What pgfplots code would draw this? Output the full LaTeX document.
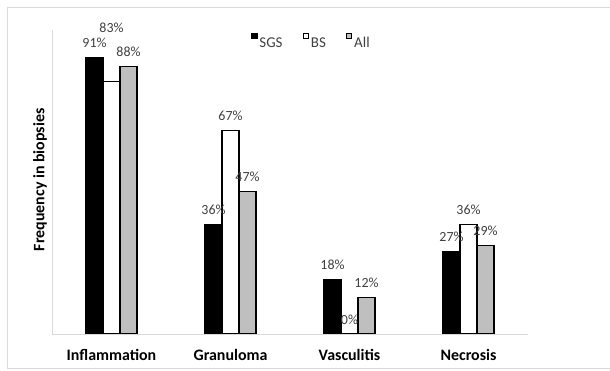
\documentclass[border=0pt]{standalone}
\usepackage{fontspec}
\setmainfont{Carlito}
\usepackage{pgfplots}
\pgfplotsset{compat=1.18}
\usepackage{pgfplotstable}
\definecolor{barg}{HTML}{BFBFBF}
\definecolor{lab}{HTML}{404040}
\definecolor{frame}{HTML}{D9D9D9}
\pgfplotstableread{
x sgs bs all off
0 91 83 88 39.5
1 36 67 47 0
2 18 0 12 0
3 27 36 29 0
}\data
\begin{document}
\begin{tikzpicture}
\useasboundingbox (0,0) rectangle (610bp,371bp);
\draw[frame, line width=1bp] (610bp,363bp) -- (7bp,363bp) -- (7bp,2bp) -- (610bp,2bp);
\begin{axis}[
 at={(52bp,37bp)}, anchor=south west,
 scale only axis, width=476bp, height=304bp,
 xmin=-0.5, xmax=3.5, ymin=0, ymax=100,
 /pgf/number format/assume math mode=true,
 axis lines*=left, axis line style={-, draw=frame, line width=1bp},
 ytick=\empty, xtick={0,1,2,3}, xticklabels={Inflammation,Granuloma,Vasculitis,Necrosis},
 major tick length=0pt,
 xticklabel style={font=\fontsize{16}{18}\selectfont\bfseries, yshift=-12bp},
 ylabel={Frequency in biopsies},
 ylabel style={font=\fontsize{16}{18}\selectfont\bfseries, at={(axis description cs:-0.025,0.507)}, anchor=center},
 ybar, bar width=0.143,
 nodes near coords={\pgfmathprintnumber{\pgfplotspointmeta}\%},
 nodes near coords style={font=\fontsize{14}{16}\selectfont, text=lab, anchor=base, yshift=10bp},
 legend columns=3,
 legend style={draw=none, fill=none, at={(0.545,0.96)}, anchor=center, font=\fontsize{15}{18}\selectfont, text=lab, /tikz/every even column/.append style={column sep=18bp}},
 legend image code/.code={\draw[#1, line width=0.8bp] (0bp,4.5bp) rectangle (5.5bp,10bp);},
]
\addplot[fill=black, draw=black, line width=1.2bp, bar shift=-0.143] table[x=x,y=sgs]{\data};
\addplot[fill=white, draw=black, line width=1.2bp, bar shift=0,
  visualization depends on={\thisrow{off} \as \myoff},
  every node near coord/.append style={yshift=\myoff bp}] table[x=x,y=bs]{\data};
\addplot[fill=barg, draw=black, line width=1.2bp, bar shift=0.143] table[x=x,y=all]{\data};
\legend{SGS,BS,All}
\end{axis}
\end{tikzpicture}
\end{document}
